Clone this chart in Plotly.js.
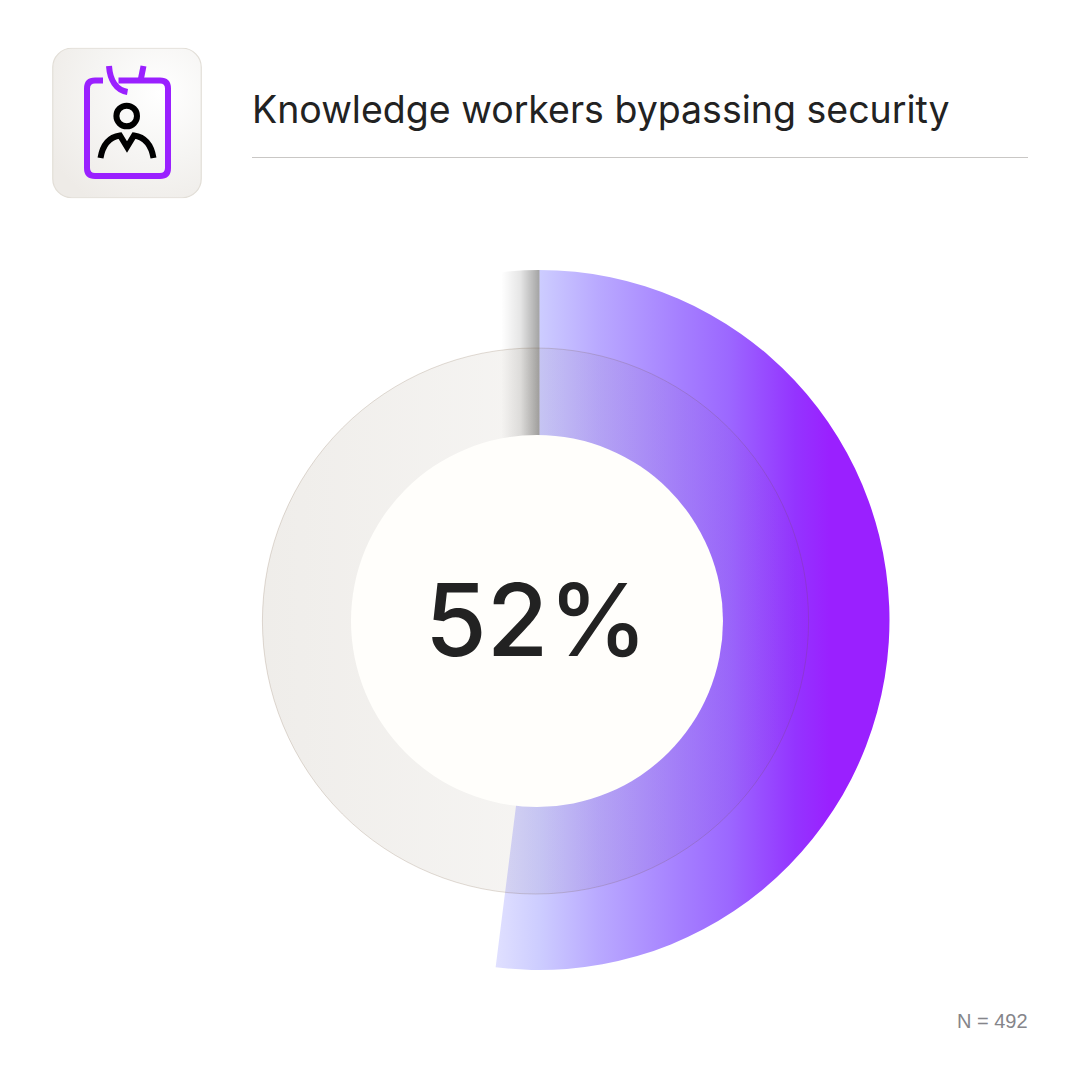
<!DOCTYPE html>
<html>
<head>
<meta charset="utf-8">
<script src="https://cdn.plot.ly/plotly-3.0.1.min.js"></script>
<style>html,body{margin:0;padding:0;background:#fff}#chart{width:1080px;height:1080px}</style>
</head>
<body>
<div id="chart"></div>
<script>
const titleText = "Knowledge workers bypassing security";
const sampleText = "N = 492";
const categories = ["Bypassing security", "Not bypassing"];
const shareValues = [52, 48];
const headline = shareValues[0] + "%";
const totalRing = [100];
const edgeShade = [3.5, 96.5];

const PURPLE = "#9a20ff";
const INK = "#222222";

function dom(cx, cy, r) {
  return {
    x: [(cx - r) / 1080, (cx + r) / 1080],
    y: [1 - (cy + r) / 1080, 1 - (cy - r) / 1080]
  };
}
const base = {type: "pie", sort: false, direction: "clockwise", textinfo: "none",
  hoverinfo: "skip", showlegend: false};

const data = [
  Object.assign({}, base, {
    labels: categories, values: shareValues, rotation: 0,
    domain: dom(539.5, 620, 350), hole: 178 / 350,
    marker: {colors: [PURPLE, "rgba(0,0,0,0)"], line: {width: 0}}
  }),
  Object.assign({}, base, {
    labels: ["Shade", "Rest"], values: edgeShade, rotation: -edgeShade[0] * 3.6,
    domain: dom(539.5, 620, 350), hole: 178 / 350,
    marker: {colors: ["#888888", "rgba(0,0,0,0)"], line: {width: 0}}
  }),
  Object.assign({}, base, {
    labels: ["All"], values: totalRing,
    domain: dom(535.5, 621, 273), hole: 178 / 273,
    marker: {colors: ["rgba(68,43,5,0.07)"], line: {width: 1, color: "rgba(110,80,50,0.2)"}}
  })
];

function px(x) { return x / 1080; }
function py(y) { return 1 - y / 1080; }
function shape(extra) { return Object.assign({xref: "paper", yref: "paper"}, extra); }
function pathPx(cmds) {
  return cmds.map(c => typeof c === "string" ? c : px(c[0]) + "," + py(c[1])).join(" ");
}
function icon(cmds, color) {
  return shape({type: "path", path: pathPx(cmds), line: {color: color, width: 6}, fillcolor: "rgba(0,0,0,0)", layer: "above"});
}

const shapes = [
  shape({type: "line", x0: px(252), x1: px(1028), y0: py(157.5), y1: py(157.5), line: {color: "#c9c7c5", width: 1}}),
  shape({type: "circle", x0: px(351), x1: px(723), y0: py(435), y1: py(807), fillcolor: "#fffefb", line: {width: 0}, layer: "above"}),
  icon(["M", [103, 80.5], "L", [95, 80.5], "Q", [87, 80.5], [87, 88.5], "L", [87, 168], "Q", [87, 176], [95, 176],
        "L", [160, 176], "Q", [168, 176], [168, 168], "L", [168, 88.5], "Q", [168, 80.5], [160, 80.5], "L", [118.5, 80.5]], PURPLE),
  icon(["M", [109, 66], "C", [110, 80], [116, 90], [127.5, 92]], PURPLE),
  icon(["M", [143.5, 66], "L", [140.5, 81]], PURPLE),
  shape({type: "circle", x0: px(116.4), x1: px(137), y0: py(105.7), y1: py(126.3), line: {color: "#000000", width: 6}, fillcolor: "rgba(0,0,0,0)", layer: "above"}),
  icon(["M", [100.5, 158], "C", [103, 143], [110, 137], [120, 135.5], "L", [127, 147], "L", [134, 135.5],
        "C", [144, 137], [151, 143], [153.5, 158]], "#000000")
];

const tile = "data:image/svg+xml;utf8," + encodeURIComponent(
  '<svg xmlns="http://www.w3.org/2000/svg" width="150" height="151" viewBox="0 0 150 151">' +
  '<defs><radialGradient id="g" cx="0.72" cy="0.3" r="0.85"><stop offset="0" stop-color="#ffffff"/>' +
  '<stop offset="0.55" stop-color="#f5f4f2"/><stop offset="1" stop-color="#eeebe7"/></radialGradient></defs>' +
  '<rect x="0.75" y="0.75" width="148.5" height="149.5" rx="19" fill="url(#g)" stroke="#e2ded7" stroke-width="1.2"/></svg>');

const annotations = [
  {text: titleText, xref: "paper", yref: "paper", x: px(250), y: py(109), xanchor: "left", yanchor: "middle",
   showarrow: false, font: {family: "Inter", size: 37.5, color: INK}},
  {text: headline, xref: "paper", yref: "paper", x: px(536), y: py(619), xanchor: "center", yanchor: "middle",
   showarrow: false, font: {family: "Inter", size: 100, weight: 500, color: INK}},
  {text: sampleText, xref: "paper", yref: "paper", x: px(1030), y: py(1021), xanchor: "right", yanchor: "middle",
   showarrow: false, font: {family: "Liberation Sans", size: 20, color: "#85858a"}}
];

const layout = {
  width: 1080, height: 1080, margin: {l: 0, r: 0, t: 0, b: 0},
  paper_bgcolor: "#ffffff", plot_bgcolor: "#ffffff", showlegend: false,
  shapes: shapes, annotations: annotations,
  images: [{source: tile, xref: "paper", yref: "paper", x: px(52), y: py(47.5), sizex: px(150), sizey: 151 / 1080,
            xanchor: "left", yanchor: "top", sizing: "stretch", layer: "below"}]
};

function addGradient(svg, id, stops) {
  const ns = "http://www.w3.org/2000/svg";
  const defs = svg.querySelector("defs");
  const g = document.createElementNS(ns, "linearGradient");
  g.setAttribute("id", id);
  g.setAttribute("x1", "0"); g.setAttribute("x2", "1"); g.setAttribute("y1", "0"); g.setAttribute("y2", "0");
  stops.forEach(s => {
    const st = document.createElementNS(ns, "stop");
    st.setAttribute("offset", s[0]);
    st.setAttribute("stop-color", s[1]);
    st.setAttribute("stop-opacity", s[2] === undefined ? 1 : s[2]);
    g.appendChild(st);
  });
  defs.appendChild(g);
}

function paint(path, id) {
  path.style.fill = "url(#" + id + ")";
  path.style.fillOpacity = 1;
}

Plotly.newPlot("chart", data, layout, {displayModeBar: false, staticPlot: true}).then(gd => {
  const svg = gd.querySelector(".main-svg");
  addGradient(svg, "purpleFade", [
    [0, "#e0e0ff"], [0.11, "#cdcdff"], [0.26, "#b9a9ff"], [0.47, "#a57fff"],
    [0.59, "#9c68ff"], [0.76, "#9434ff"], [0.85, PURPLE], [1, PURPLE]
  ]);
  addGradient(svg, "edgeFade", [
    [0, "#000000", 0], [0.5, "#000000", 0], [0.75, "#000000", 0.1], [1, "#000000", 0.36]
  ]);
  addGradient(svg, "ringFade", [
    [0, "rgb(68,43,5)", 0.085], [0.43, "rgb(68,43,5)", 0.055], [0.62, "rgb(68,43,5)", 0.045], [1, "rgb(68,43,5)", 0.008]
  ]);
  const traces = gd.querySelectorAll(".pielayer .trace");
  paint(traces[0].querySelectorAll("path.surface")[0], "purpleFade");
  paint(traces[1].querySelectorAll("path.surface")[0], "edgeFade");
  paint(traces[2].querySelectorAll("path.surface")[0], "ringFade");
});
</script>
</body>
</html>
